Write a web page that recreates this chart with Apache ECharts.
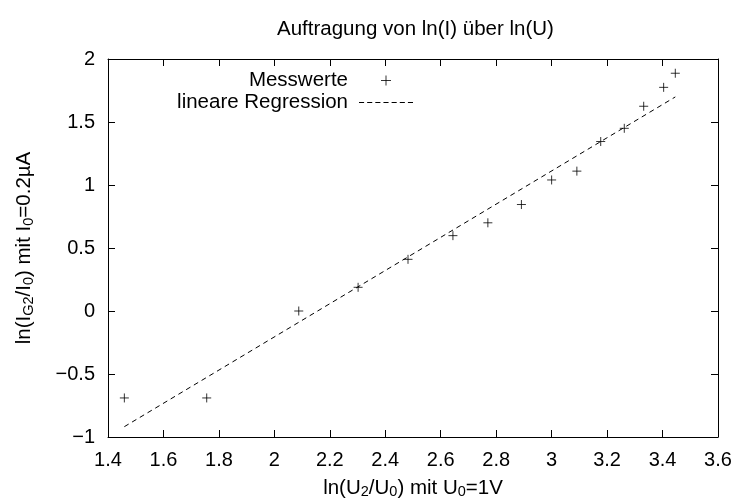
<!DOCTYPE html>
<html>
<head>
<meta charset="utf-8">
<script src="https://cdn.jsdelivr.net/npm/echarts@6/dist/echarts.min.js"></script>
<style>html,body{margin:0;padding:0;background:#fff}#c{width:738px;height:499px}</style>
</head>
<body>
<div id="c"></div>
<script>
var xValues = [1.459, 1.756, 2.088, 2.302, 2.482, 2.644, 2.770, 2.891, 3.000, 3.091, 3.177, 3.262, 3.332, 3.404, 3.446];
var yValues = [-0.69, -0.69, 0.0, 0.188, 0.41, 0.598, 0.70, 0.845, 1.04, 1.11, 1.345, 1.45, 1.625, 1.775, 1.887];
var regX = [1.459, 3.446];
var regY = [-0.918, 1.699];
var xTicks = [1.4, 1.6, 1.8, 2, 2.2, 2.4, 2.6, 2.8, 3, 3.2, 3.4, 3.6];
var yTicks = [-1, -0.5, 0, 0.5, 1, 1.5, 2];

var FONT = 'Liberation Sans';
var FS = 20.5;
var plusPath = 'path://M0,5L10,5M5,0L5,10';
var dashPath = 'path://M0,0h5v1h-5zM8,0h5v1h-5zM16,0h5v1h-5zM24,0h5v1h-5zM32,0h5v1h-5zM40,0h5v1h-5zM48,0h5v1h-5z';
var chart = echarts.init(document.getElementById('c'));
var richStyles = {
  b: {fontSize: FS, fontFamily: FONT, color: '#000', lineHeight: 22, verticalAlign: 'top'},
  s: {fontSize: 14.5, fontFamily: FONT, color: '#000', lineHeight: 14, verticalAlign: 'bottom', padding: [10, 0, 0, 0]}
};
function axisCommon(pos, show) {
  return {
    type: 'value', position: pos,
    axisLine: {show: true, onZero: false, lineStyle: {color: '#000', width: 1}},
    axisTick: {show: true, inside: true, length: 7, lineStyle: {color: '#000', width: 1}},
    splitLine: {show: false},
    axisLabel: {show: show, color: '#000', fontSize: 20, fontFamily: FONT, margin: 13,
      formatter: function (v) { return String(v).replace('-', '\u2212'); }}
  };
}
var xb = axisCommon('bottom', true);
xb.min = xTicks[0]; xb.max = xTicks[xTicks.length - 1]; xb.interval = 0.2;
xb.name = '{b|ln(U}{s|2}{b|/U}{s|0}{b|) mit U}{s|0}{b|=1V}';
xb.nameLocation = 'middle'; xb.nameGap = 37;
xb.nameTextStyle = {fontSize: FS, fontFamily: FONT, color: '#000', rich: richStyles};
var xt = axisCommon('top', false);
xt.min = xTicks[0]; xt.max = xTicks[xTicks.length - 1]; xt.interval = 0.2;
var yl = axisCommon('left', true);
yl.min = yTicks[0]; yl.max = yTicks[yTicks.length - 1]; yl.interval = 0.5;
yl.name = '{b|ln(I}{s|G2}{b|/I}{s|0}{b|) mit I}{s|0}{b|=0.2\u00b5A}';
yl.nameLocation = 'middle'; yl.nameGap = 72;
yl.nameTextStyle = {fontSize: FS, fontFamily: FONT, color: '#000', rich: richStyles};
var yr = axisCommon('right', false);
yr.min = yTicks[0]; yr.max = yTicks[yTicks.length - 1]; yr.interval = 0.5;

var pts = xValues.map(function (x, i) { return [x, yValues[i]]; });
var reg = regX.map(function (x, i) { return [x, regY[i]]; });

chart.setOption({
  animation: false,
  backgroundColor: '#fff',
  title: {text: 'Auftragung von ln(I) \u00fcber ln(U)', left: 272, top: 14,
    textStyle: {fontSize: FS, fontWeight: 'normal', fontFamily: FONT, color: '#000'}},
  grid: {left: 108, right: 20, top: 59, bottom: 62, containLabel: false, outerBoundsMode: 'none'},
  xAxis: [xb, xt],
  yAxis: [yl, yr],
  legend: {
    orient: 'vertical', align: 'right', right: 320, top: 65,
    itemWidth: 54, itemHeight: 10, itemGap: 1,
    textStyle: {fontSize: FS, fontFamily: FONT, color: '#000', padding: [0, 6, 0, 0]},
    data: [
      {name: 'Messwerte', icon: plusPath, itemStyle: {color: 'none', borderColor: '#000', borderWidth: 1}},
      {name: 'lineare Regression', icon: dashPath, itemStyle: {color: '#000', borderWidth: 0}}
    ]
  },
  series: [
    {name: 'Messwerte', type: 'scatter', data: pts, symbol: plusPath, symbolSize: 9,
      itemStyle: {color: 'none', borderColor: '#000', borderWidth: 1}},
    {name: 'lineare Regression', type: 'line', data: reg, symbol: 'none',
      itemStyle: {color: '#000'},
      lineStyle: {color: '#000', width: 1, type: [5, 4]}}
  ]
});
</script>
</body>
</html>
